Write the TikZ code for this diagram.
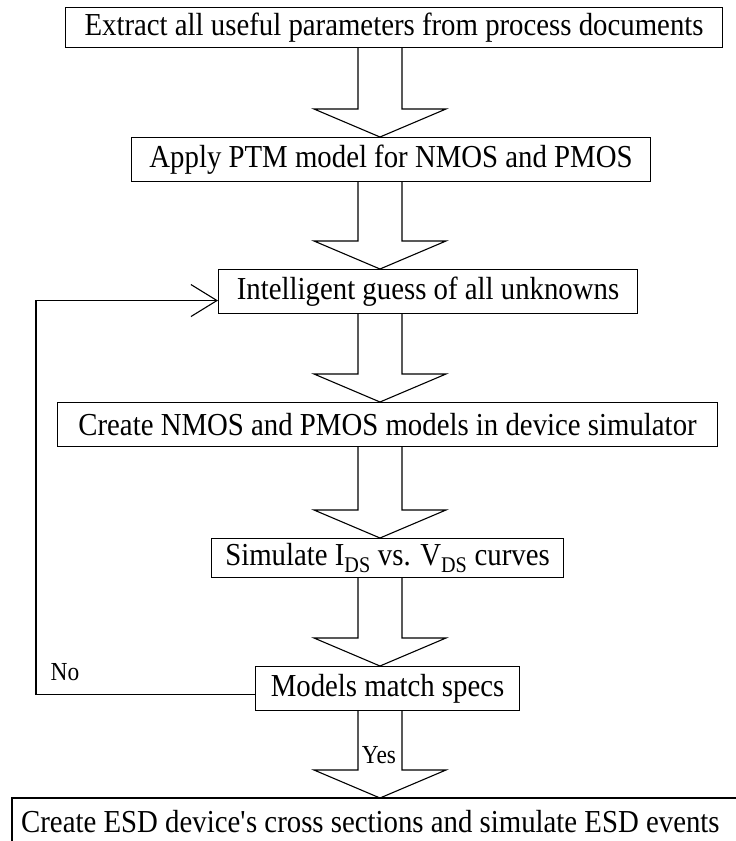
\documentclass[tikz,border=0pt]{standalone}
\usepackage{fontspec}
\setmainfont{Liberation Serif}[FakeStretch=0.9]
\usetikzlibrary{arrows.meta,calc}

\tikzset{
  stepbox/.style={draw, line width=1.1pt, inner sep=0pt, anchor=north west,
    font=\fontsize{32}{38}\selectfont},
  steptext/.style={inner sep=0pt, anchor=north west,
    font=\fontsize{32}{38}\selectfont},
  frame/.style={line width=1.1pt},
  blockarrow/.style={line width=1.1pt, line join=miter},
  loopline/.style={line width=1.1pt, -{Straight Barb[length=26pt,width=32pt]}},
  lbl/.style={inner sep=0pt, font=\fontsize{26}{30}\selectfont}
}

% hollow block arrow on the common axis x = 380, from the bottom of #1 to the top of #2
\newcommand\flowarrow[2]{%
  \draw[blockarrow] let \p1=(#1.south), \p2=(#2.north) in
    (358pt,\y1) -- (358pt,\y2+28pt) -- (314pt,\y2+28pt) -- (380pt,\y2)
    -- (446pt,\y2+28pt) -- (402pt,\y2+28pt) -- (402pt,\y1);}

\begin{document}
\begin{tikzpicture}[x=1pt, y=-1pt]
  \useasboundingbox (0,0) rectangle (736,841);
  \clip (0,0) rectangle (736,841);

  \node[stepbox, minimum width=657pt, minimum height=40pt] (s1) at (65,7)
    {Extract all useful parameters from process documents};
  \node[stepbox, minimum width=519pt, minimum height=44pt] (s2) at (131,137)
    {Apply PTM model for NMOS and PMOS};
  \node[stepbox, minimum width=419pt, minimum height=44pt] (s3) at (218,269)
    {Intelligent guess of all unknowns};
  \node[stepbox, minimum width=660pt, minimum height=44pt] (s4) at (57,402)
    {Create NMOS and PMOS models in device simulator};
  \node[stepbox, minimum width=352pt, minimum height=39pt] (s5) at (211,538)
    {Simulate I\textsubscript{DS} vs. V\textsubscript{DS} curves};
  \node[stepbox, minimum width=264pt, minimum height=44pt] (s6) at (255,666)
    {Models match specs};
  \node[steptext, inner xsep=9pt, minimum height=46pt] (s7) at (12,798)
    {Create ESD device\textquotesingle s cross sections and simulate ESD events};
  \draw[frame] (s7.south west) |- ([xshift=20pt]s7.north east);

  \flowarrow{s1}{s2}
  \flowarrow{s2}{s3}
  \flowarrow{s3}{s4}
  \flowarrow{s4}{s5}
  \flowarrow{s5}{s6}
  \flowarrow{s6}{s7}

  % "No" branch back to the guessing step
  \coordinate (lx) at (36,0);
  \coordinate (g3) at ([yshift=-9pt]s3.west);
  \coordinate (m6) at ([yshift=-6pt]s6.west);
  \draw[loopline] (m6) -| (lx |- g3) -- (g3);

  \node[lbl] (no) at (65,672) {No};
  \node[lbl] (yes) at (379,755) {Yes};
\end{tikzpicture}
\end{document}
